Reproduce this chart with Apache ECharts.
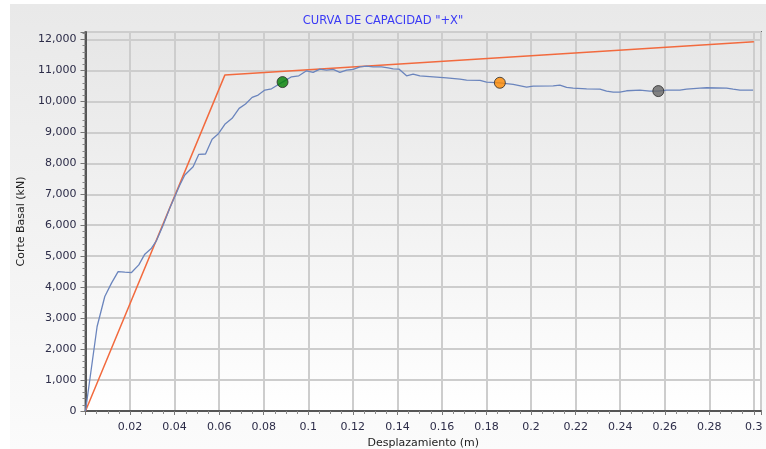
<!DOCTYPE html>
<html>
<head>
<meta charset="utf-8">
<script src="https://cdn.jsdelivr.net/npm/echarts@6/dist/echarts.min.js"></script>
<style>
html,body{margin:0;padding:0;background:#fff;}
#wrap{position:relative;width:766px;height:449px;background:#fff;overflow:hidden;}
#panel{position:absolute;left:10px;top:4px;width:756px;height:445px;background:linear-gradient(#e9e9e9,#fbfbfb);}
#chart{position:absolute;left:0;top:0;width:766px;height:449px;}
</style>
</head>
<body>
<div id="wrap"><div id="panel"></div><div id="chart"></div></div>
<script>
// Capacity curve (pushover) - displacement (m)
const curveX = [0, 0.00521, 0.00866, 0.01167, 0.01464, 0.01764, 0.02065, 0.02393, 0.02662, 0.02963, 0.03187,
  0.03470, 0.03785, 0.04234, 0.04458, 0.04831, 0.05086, 0.05387, 0.05683, 0.05953, 0.06254, 0.06581, 0.06895,
  0.07183, 0.07479, 0.07749, 0.08049, 0.08350, 0.08844, 0.09248, 0.09576, 0.09921, 0.10218, 0.10519, 0.10819,
  0.11116, 0.11417, 0.11717, 0.12014, 0.12315, 0.12615, 0.12912, 0.13289, 0.13585, 0.13810, 0.14066, 0.14411,
  0.14707, 0.15008, 0.15605, 0.16207, 0.16804, 0.17105, 0.17710, 0.18002, 0.18599, 0.19196, 0.19798, 0.20094,
  0.20992, 0.21293, 0.21594, 0.21890, 0.22492, 0.23089, 0.23390, 0.23686, 0.23986, 0.24287, 0.24884, 0.25333,
  0.25706, 0.26083, 0.26680, 0.26981, 0.27579, 0.27880, 0.28777, 0.29069, 0.29374, 0.29966];
// Capacity curve - base shear (kN)
const curveY = [0, 2729, 3697, 4129, 4503, 4484, 4471, 4719, 5065, 5258, 5503,
  5977, 6558, 7300, 7623, 7890, 8290, 8300, 8774, 8945, 9258, 9452, 9774,
  9913, 10129, 10203, 10365, 10406, 10623, 10794, 10826, 10987, 10935, 11042, 11010,
  11032, 10935, 11010, 11032, 11116, 11139, 11116, 11116, 11084, 11052, 11042, 10826,
  10881, 10826, 10794, 10761, 10719, 10687, 10677, 10623, 10600, 10548, 10461, 10494,
  10503, 10526, 10452, 10429, 10406, 10397, 10332, 10300, 10300, 10342, 10365, 10332,
  10332, 10365, 10365, 10397, 10429, 10439, 10429, 10397, 10365, 10365];
// Bilinear idealization
const bilinX = [0, 0.06254, 0.3];
const bilinY = [0, 10848, 11923];
// Performance points
const pointX = [0.08844, 0.18599, 0.2571];
const pointY = [10623, 10600, 10332];
const pointColors = ['#008000', '#ff8a00', '#666666'];
const titleText = 'CURVA DE CAPACIDAD "+X"';
const xName = 'Desplazamiento (m)';
const yName = 'Corte Basal (kN)';

const pair = (xs, ys) => xs.map((x, i) => [x, ys[i]]);
const font = 'DejaVu Sans';
const chart = echarts.init(document.getElementById('chart'), null, {renderer: 'canvas'});
chart.setOption({
  backgroundColor: 'transparent',
  animation: false,
  title: {
    text: titleText, left: 'center', top: 10,
    textStyle: {color: '#3b3bf5', fontSize: 11.5, fontWeight: 'normal', fontFamily: font}
  },
  grid: {
    left: 85.5, right: 5, top: 32, bottom: 38,
    outerBoundsMode: 'none', containLabel: false,
    show: true, borderColor: '#6f6f6f', borderWidth: 2,
    backgroundColor: new echarts.graphic.LinearGradient(0, 0, 0, 1, [
      {offset: 0, color: '#e6e6e6'}, {offset: 1, color: '#ffffff'}])
  },
  xAxis: {
    type: 'value', min: 0, max: 0.3032, interval: 0.02,
    name: xName, nameLocation: 'middle', nameGap: 24,
    nameTextStyle: {color: '#222', fontSize: 11, fontFamily: font},
    axisLine: {show: true, onZero: false, lineStyle: {color: '#555', width: 2}},
    axisTick: {show: true, length: 4, lineStyle: {color: '#777'}},
    minorTick: {show: true, splitNumber: 4, length: 3, lineStyle: {color: '#888'}},
    splitLine: {show: true, lineStyle: {color: '#cdcdcd', width: 2}},
    axisLabel: {
      showMinLabel: false, showMaxLabel: false, margin: 11,
      color: '#2c2c48', fontSize: 11, fontFamily: font,
      formatter: v => String(+v.toFixed(2))
    }
  },
  yAxis: {
    type: 'value', min: 0, max: 12240, interval: 1000,
    name: yName, nameLocation: 'middle', nameGap: 59, nameRotate: 90,
    nameTextStyle: {color: '#222', fontSize: 11, fontFamily: font},
    axisLine: {show: true, lineStyle: {color: '#555', width: 2}},
    axisTick: {show: true, length: 5, lineStyle: {color: '#777'}},
    minorTick: {show: true, splitNumber: 5, length: 3, lineStyle: {color: '#888'}},
    splitLine: {show: true, lineStyle: {color: '#cdcdcd', width: 2}},
    axisLabel: {
      showMaxLabel: false, margin: 9,
      color: '#2c2c48', fontSize: 11, fontFamily: font,
      formatter: v => Math.round(v).toLocaleString('en-US')
    }
  },
  series: [
    {
      type: 'line', data: pair(bilinX, bilinY), showSymbol: false, symbol: 'none',
      lineStyle: {color: '#f26a3e', width: 1.5}, z: 3
    },
    {
      type: 'line', data: pair(curveX, curveY), showSymbol: false, symbol: 'none',
      lineStyle: {color: '#6b85bd', width: 1.3}, z: 4
    },
    {
      type: 'scatter', data: pair(pointX, pointY), symbolSize: 11, z: 5,
      itemStyle: {
        color: p => pointColors[p.dataIndex],
        borderColor: '#2a2a2a', borderWidth: 1
      }
    }
  ]
});
</script>
</body>
</html>
